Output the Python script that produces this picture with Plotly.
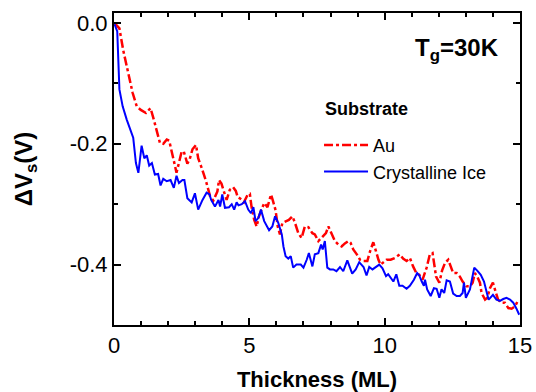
import plotly.graph_objects as go

ice_x = [0.02, 0.12, 0.2, 0.32, 0.47, 0.62, 0.71, 0.81, 0.9, 1.02, 1.12, 1.21, 1.3, 1.4, 1.51, 1.63, 1.72, 1.82, 1.95, 2.09,
         2.21, 2.31, 2.4, 2.53, 2.6, 2.71, 2.87, 2.99, 3.11, 3.27, 3.42, 3.53, 3.59, 3.73, 3.86, 3.92, 4.0, 4.1, 4.25, 4.35,
         4.44, 4.53, 4.6, 4.72, 4.84, 4.96, 5.06, 5.15, 5.23, 5.33, 5.43, 5.55, 5.73, 5.85, 5.95, 6.07, 6.2, 6.26, 6.34, 6.44,
         6.53, 6.62, 6.74, 6.9, 7.0, 7.12, 7.2, 7.33, 7.42, 7.55, 7.65, 7.71, 7.79, 7.88, 7.98, 8.1, 8.22, 8.35, 8.47, 8.62,
         8.8, 8.93, 9.06, 9.14, 9.22, 9.33, 9.43, 9.55, 9.68, 9.8, 9.92, 10.05, 10.13, 10.22, 10.32, 10.43, 10.54, 10.66, 10.81, 10.93,
         11.08, 11.2, 11.28, 11.37, 11.45, 11.49, 11.57, 11.7, 11.82, 11.92, 12.02, 12.1, 12.2, 12.29, 12.41, 12.53, 12.66, 12.78, 12.88, 12.93,
         13.0, 13.15, 13.25, 13.31, 13.42, 13.55, 13.67, 13.77, 13.84, 13.9, 14.0, 14.13, 14.26, 14.38, 14.5, 14.63, 14.75, 14.87, 14.97]
ice_v = [-0.002, -0.014, -0.11, -0.138, -0.16, -0.18, -0.19, -0.232, -0.248, -0.203, -0.224, -0.219, -0.236, -0.232, -0.251, -0.25, -0.269, -0.258, -0.262, -0.26,
         -0.273, -0.253, -0.265, -0.26, -0.26, -0.29, -0.297, -0.282, -0.309, -0.293, -0.281, -0.284, -0.293, -0.304, -0.293, -0.304, -0.284, -0.306, -0.305, -0.3,
         -0.309, -0.297, -0.302, -0.3, -0.295, -0.309, -0.315, -0.305, -0.328, -0.323, -0.309, -0.328, -0.343, -0.337, -0.32, -0.331, -0.35, -0.37, -0.386, -0.39,
         -0.386, -0.405, -0.4, -0.4, -0.405, -0.392, -0.381, -0.403, -0.383, -0.381, -0.367, -0.375, -0.361, -0.405, -0.408, -0.408, -0.411, -0.404, -0.411, -0.393,
         -0.415, -0.408, -0.396, -0.4, -0.404, -0.418, -0.404, -0.408, -0.404, -0.4, -0.406, -0.419, -0.416, -0.422, -0.428, -0.416, -0.435, -0.435, -0.44, -0.435,
         -0.425, -0.414, -0.418, -0.428, -0.435, -0.425, -0.441, -0.452, -0.439, -0.44, -0.455, -0.441, -0.447, -0.426, -0.428, -0.448, -0.452, -0.452, -0.447, -0.43,
         -0.455, -0.441, -0.419, -0.405, -0.41, -0.417, -0.428, -0.444, -0.458, -0.455, -0.45, -0.458, -0.46, -0.457, -0.455, -0.458, -0.463, -0.473, -0.483]

au_x = [0.02, 0.2, 0.34, 0.53, 0.69, 0.84, 0.99, 1.18, 1.35, 1.47, 1.57, 1.7, 1.82, 1.95, 2.04, 2.13, 2.23, 2.31, 2.4, 2.5,
        2.58, 2.71, 2.8, 2.9, 3.03, 3.11, 3.24, 3.4, 3.55, 3.67, 3.82, 3.88, 3.97, 4.07, 4.16, 4.28, 4.4, 4.5, 4.57, 4.7,
        4.8, 4.94, 5.02, 5.08, 5.18, 5.27, 5.35, 5.45, 5.55, 5.67, 5.8, 5.87, 5.97, 6.05, 6.13, 6.22, 6.34, 6.46, 6.59, 6.68,
        6.81, 6.93, 7.05, 7.18, 7.33, 7.42, 7.55, 7.69, 7.83, 7.92, 8.03, 8.16, 8.29, 8.41, 8.53, 8.66, 8.74, 8.84, 8.97, 9.09,
        9.21, 9.36, 9.46, 9.58, 9.68, 9.77, 9.85, 9.95, 10.07, 10.22, 10.38, 10.56, 10.68, 10.81, 10.93, 11.05, 11.18, 11.28, 11.4, 11.55,
        11.67, 11.77, 11.86, 11.9, 12.02, 12.12, 12.23, 12.35, 12.44, 12.53, 12.66, 12.78, 12.88, 13.03, 13.15, 13.25, 13.33, 13.42, 13.52, 13.58,
        13.71, 13.79, 13.89, 14.0, 14.1, 14.19, 14.31, 14.44, 14.57, 14.69, 14.82, 14.94]
au_v = [0.0, -0.009, -0.045, -0.083, -0.116, -0.138, -0.144, -0.149, -0.141, -0.16, -0.177, -0.199, -0.2, -0.193, -0.195, -0.215, -0.232, -0.248, -0.23, -0.213,
        -0.213, -0.233, -0.225, -0.209, -0.202, -0.224, -0.24, -0.262, -0.287, -0.294, -0.279, -0.26, -0.266, -0.279, -0.293, -0.276, -0.272, -0.278, -0.288, -0.292,
        -0.297, -0.284, -0.283, -0.304, -0.326, -0.337, -0.321, -0.309, -0.298, -0.305, -0.284, -0.294, -0.31, -0.337, -0.35, -0.331, -0.328, -0.326, -0.32, -0.33,
        -0.348, -0.356, -0.337, -0.338, -0.348, -0.35, -0.361, -0.354, -0.348, -0.337, -0.348, -0.361, -0.367, -0.37, -0.365, -0.361, -0.364, -0.375, -0.383, -0.392,
        -0.394, -0.394, -0.378, -0.363, -0.378, -0.392, -0.4, -0.397, -0.392, -0.392, -0.389, -0.383, -0.39, -0.394, -0.389, -0.403, -0.415, -0.417, -0.425, -0.405,
        -0.383, -0.381, -0.408, -0.42, -0.43, -0.41, -0.397, -0.392, -0.403, -0.414, -0.414, -0.42, -0.428, -0.436, -0.436, -0.43, -0.414, -0.42, -0.43, -0.447,
        -0.458, -0.455, -0.439, -0.43, -0.445, -0.458, -0.463, -0.463, -0.472, -0.473, -0.469, -0.458]

x_ticks = [0, 5, 10, 15]
y_ticks = [0.0, -0.2, -0.4]
y_ticklabels = ["0.0", "-0.2", "-0.4"]

FONT = "Arial, Liberation Sans, sans-serif"

fig = go.Figure()
fig.add_trace(go.Scatter(x=au_x, y=au_v, mode="lines", name="Au",
                         line=dict(color="#ff0000", width=2.5, dash="dashdot")))
fig.add_trace(go.Scatter(x=ice_x, y=ice_v, mode="lines", name="Crystalline Ice",
                         line=dict(color="#0000ff", width=2)))

axis_common = dict(showline=True, linecolor="black", linewidth=2, mirror="allticks",
                   ticks="inside", ticklen=7, tickwidth=2, tickcolor="black",
                   showgrid=False, zeroline=False, automargin=False,
                   tickfont=dict(family=FONT, size=22, color="black"))

fig.update_xaxes(range=[0, 15], tickvals=x_ticks, ticktext=[str(v) for v in x_ticks],
                 minor=dict(ticks="inside", dtick=1, ticklen=4, tickwidth=2, tickcolor="black"),
                 title=dict(text="<b>Thickness (ML)</b>", font=dict(family=FONT, size=22, color="black"), standoff=14),
                 **axis_common)
fig.update_yaxes(range=[-0.5, 0.0165], tickvals=y_ticks, ticktext=y_ticklabels,
                 minor=dict(ticks="inside", dtick=0.1, tick0=0, ticklen=4, tickwidth=2, tickcolor="black"),
                 title=dict(text="<b>ΔV<sub>s</sub>(V)</b>", font=dict(family=FONT, size=24, color="black"), standoff=30),
                 **axis_common)

fig.add_annotation(x=0.736, y=0.938, xref="paper", yref="paper", xanchor="left", yanchor="top",
                   text="<b>T<sub>g</sub>=30K</b>", showarrow=False,
                   font=dict(family=FONT, size=24, color="black"))
fig.add_annotation(x=0.515, y=0.692, xref="paper", yref="paper", xanchor="left", yanchor="middle",
                   text="<b>Substrate</b>", showarrow=False,
                   font=dict(family=FONT, size=18, color="black"))

fig.update_layout(
    width=536, height=392,
    margin=dict(l=114, r=16, t=13, b=67),
    paper_bgcolor="white", plot_bgcolor="white",
    showlegend=True,
    legend=dict(x=0.505, y=0.635, xanchor="left", yanchor="top",
                bgcolor="rgba(0,0,0,0)", borderwidth=0, tracegroupgap=0,
                itemwidth=44,
                font=dict(family=FONT, size=18, color="black")),
)

fig.write_html("out.html")
